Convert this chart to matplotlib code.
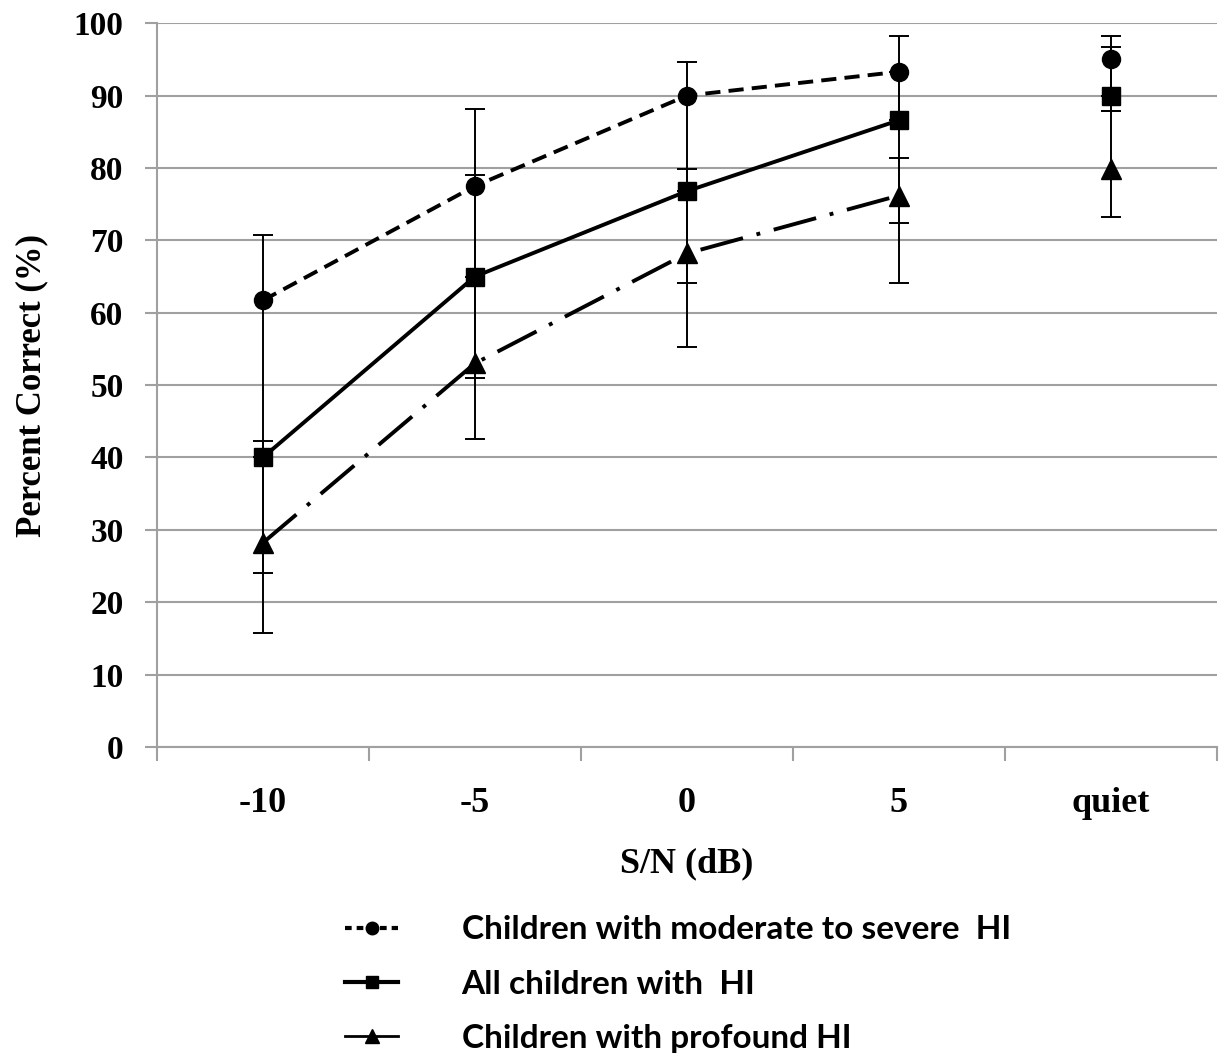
import matplotlib
matplotlib.use("Agg")
import matplotlib.pyplot as plt
from matplotlib.lines import Line2D
import numpy as np

# data
conditions = ["-10", "-5", "0", "5", "quiet"]

moderate = [61.7, 77.5, 90.0, 93.3, 95.0]
moderate_lo = [21.7, 12.5, 13.2, 6.7, 5.0]
moderate_hi = [9.0, 10.7, 4.7, 5.0, 3.3]

all_hi = [40.0, 65.0, 76.8, 86.6, 90.0]
all_lo = [16.0, 14.0, 12.7, 14.2, 2.1]
all_hi_err = [2.3, 14.0, 3.1, 6.7, 6.7]

profound = [28.2, 53.0, 68.2, 76.2, 79.8]
profound_lo = [12.5, 10.5, 13.0, 12.1, 6.6]
profound_hi = [11.8, 12.0, 8.6, 5.2, 8.1]

labels = ["Children with moderate to severe  HI",
          "All children with  HI",
          "Children with profound HI"]

fig = plt.figure(figsize=(12.25, 10.57), dpi=100)
ax = fig.add_axes([0.128, 0.2933, 0.8655, 0.6847])

x = np.arange(len(conditions))
grey = "#a0a0a0"

# error bars first, markers on top
for vals, lo, hi in [(moderate, moderate_lo, moderate_hi),
                     (all_hi, all_lo, all_hi_err),
                     (profound, profound_lo, profound_hi)]:
    ax.errorbar(x, vals, yerr=[lo, hi], fmt="none", ecolor="black",
                elinewidth=1.4, capsize=7, capthick=1.4, zorder=2)

ls_mod = (0, (3.9, 2.1))
ls_prof = (0, (11.3, 3.6, 1.0, 3.6))

ax.plot(x[:4], moderate[:4], color="black", lw=2.8, ls=ls_mod, zorder=3)
ax.plot(x[:4], all_hi[:4], color="black", lw=2.8, ls="-", zorder=3)
ax.plot(x[:4], profound[:4], color="black", lw=2.8, ls=ls_prof, zorder=3)

ax.plot(x, moderate, ls="none", marker="o", ms=13, color="black", zorder=4)
ax.plot(x, all_hi, ls="none", marker="s", ms=12.5, color="black", zorder=4)
ax.plot(x, profound, ls="none", marker="^", ms=14, color="black", zorder=4)

ax.set_xlim(-0.5, 4.5)
ax.set_ylim(0, 100)
ax.set_yticks(np.arange(0, 101, 10))
ax.yaxis.grid(True, color=grey, lw=1.5)
ax.set_axisbelow(True)

# category axis: tick marks between categories, labels at centers
ax.set_xticks(np.arange(-0.5, 4.6, 1.0))
ax.set_xticklabels([])
ax.set_xticks(x, minor=True)
ax.set_xticklabels(conditions, minor=True)
ax.tick_params(axis="x", which="major", direction="out", length=10,
               width=1.5, color=grey)
ax.tick_params(axis="x", which="minor", length=0, pad=29)
ax.tick_params(axis="y", direction="out", length=9, width=1.5,
               color=grey, pad=15)

for s in ["top", "right"]:
    ax.spines[s].set_visible(False)
for s in ["left", "bottom"]:
    ax.spines[s].set_color(grey)
    ax.spines[s].set_linewidth(1.5)

serif = "Liberation Serif"
for t in ax.get_yticklabels():
    t.set_fontfamily(serif)
    t.set_fontweight("bold")
    t.set_fontsize(24)
for t in ax.get_xticklabels(minor=True):
    t.set_fontfamily(serif)
    t.set_fontweight("bold")
    t.set_fontsize(26)

ax.set_xlabel("S/N (dB)", family=serif, fontweight="bold", fontsize=26)
ax.xaxis.set_label_coords(0.5, -0.138)
ax.set_ylabel("Percent Correct (%)", family=serif, fontweight="bold",
              fontsize=25, va="center")
ax.yaxis.set_label_coords(-0.118, 0.5)

handles = [Line2D([], [], color="black", lw=3.0, ls=(0, (1.6, 1.2)),
                  marker="o", ms=9),
           Line2D([], [], color="black", lw=3.0, ls="-", marker="s", ms=9),
           Line2D([], [], color="black", lw=2.0, ls="-", marker="^", ms=10)]
fig.legend(handles, labels, loc="upper left",
           bbox_to_anchor=(0.2816, 0.134), frameon=False,
           prop={"family": "Lato", "weight": "bold", "size": 24},
           handlelength=1.6, handletextpad=1.9, labelspacing=0.76,
           borderpad=0, borderaxespad=0)

fig.savefig("out.png", dpi=100)
